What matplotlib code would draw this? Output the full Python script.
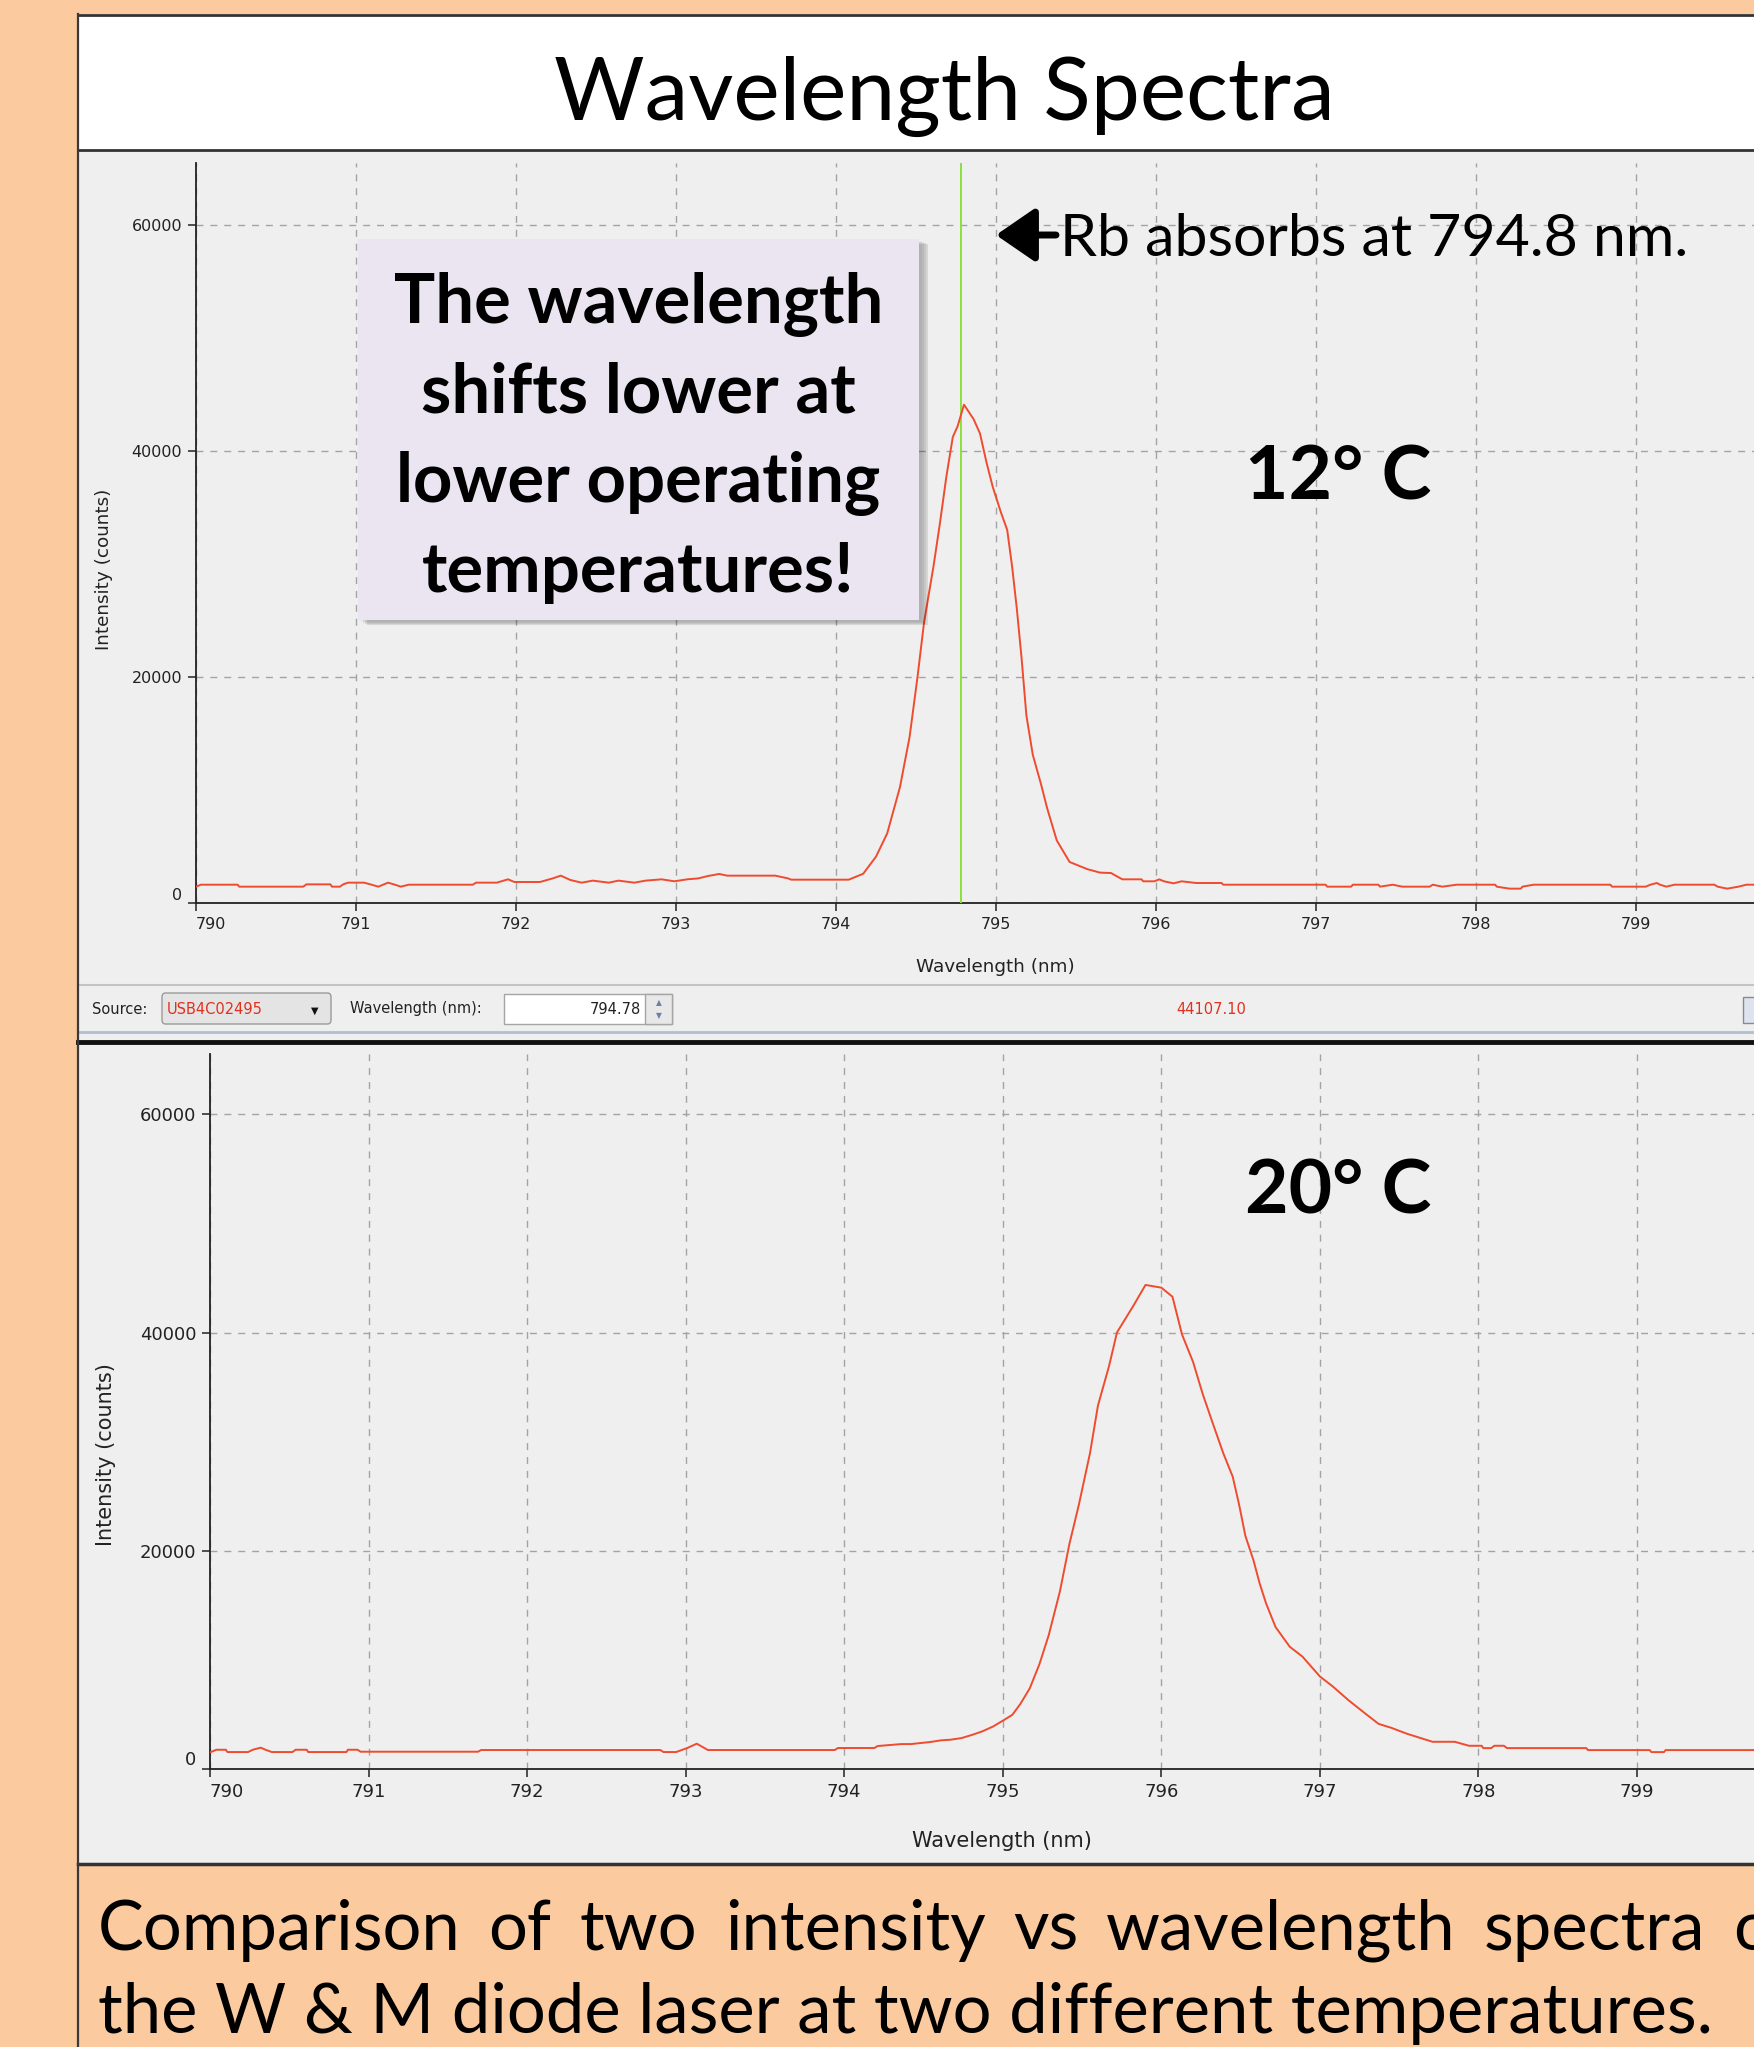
import numpy as np
import matplotlib
matplotlib.use("Agg")
import matplotlib.pyplot as plt
from matplotlib.patches import Rectangle, FancyBboxPatch

# spectrum at 12 C (nm, counts)
top_nm = [790.00, 790.03, 790.26, 790.27, 790.67, 790.69, 790.84, 790.85, 790.90, 790.92,
          790.95, 791.05, 791.09, 791.14, 791.20, 791.25, 791.28, 791.33, 791.73, 791.75,
          791.88, 791.95, 791.99, 792.15, 792.23, 792.28, 792.34, 792.41, 792.48, 792.58,
          792.64, 792.74, 792.81, 792.91, 792.99, 793.07, 793.14, 793.20, 793.27, 793.32,
          793.62, 793.70, 793.72, 794.08, 794.17, 794.25, 794.32, 794.40, 794.46, 794.51,
          794.55, 794.61, 794.65, 794.69, 794.73, 794.76, 794.80, 794.86, 794.90, 794.94,
          794.98, 795.03, 795.07, 795.10, 795.13, 795.16, 795.19, 795.23, 795.28, 795.32,
          795.38, 795.46, 795.57, 795.65, 795.72, 795.74, 795.79, 795.91, 795.92, 795.99,
          796.02, 796.05, 796.11, 796.16, 796.25, 796.41, 796.42, 797.06, 797.07, 797.22,
          797.23, 797.39, 797.40, 797.48, 797.54, 797.71, 797.73, 797.79, 797.88, 798.12,
          798.13, 798.21, 798.28, 798.29, 798.36, 798.84, 798.85, 799.06, 799.09, 799.13,
          799.15, 799.19, 799.24, 799.49, 799.51, 799.57, 799.64, 799.69, 799.74]
top_counts = [1445, 1620, 1620, 1445, 1445, 1650, 1650, 1445, 1445, 1650,
              1800, 1800, 1650, 1445, 1800, 1590, 1445, 1620, 1620, 1800,
              1800, 2095, 1860, 1860, 2180, 2420, 2035, 1800, 1980, 1800,
              1980, 1800, 1980, 2095, 1920, 2095, 2180, 2390, 2570, 2420,
              2420, 2180, 2065, 2065, 2590, 4100, 6160, 10270, 14700, 20070,
              24800, 29860, 33650, 37760, 41240, 42190, 44100, 42820, 41550, 39030,
              36810, 34600, 33020, 29860, 26070, 21650, 16590, 13110, 10590, 8370,
              5530, 3630, 3000, 2690, 2650, 2480, 2095, 2095, 1920, 1920,
              2095, 1920, 1740, 1920, 1770, 1770, 1620, 1620, 1445, 1445,
              1620, 1620, 1445, 1620, 1445, 1445, 1620, 1445, 1620, 1620,
              1445, 1270, 1270, 1445, 1620, 1620, 1445, 1445, 1620, 1770,
              1620, 1445, 1620, 1620, 1445, 1270, 1445, 1620, 1620]

# spectrum at 20 C (nm, counts)
bottom_nm = [790.00, 790.04, 790.10, 790.11, 790.24, 790.27, 790.32, 790.35, 790.39, 790.52,
             790.54, 790.61, 790.62, 790.86, 790.87, 790.93, 790.95, 791.69, 791.71, 792.84,
             792.86, 792.94, 793.01, 793.07, 793.14, 793.94, 793.96, 794.19, 794.21, 794.36,
             794.42, 794.54, 794.61, 794.67, 794.74, 794.81, 794.87, 794.94, 795.01, 795.06,
             795.11, 795.17, 795.23, 795.29, 795.36, 795.42, 795.48, 795.55, 795.60, 795.67,
             795.72, 795.82, 795.90, 796.00, 796.07, 796.13, 796.20, 796.26, 796.32, 796.39,
             796.45, 796.49, 796.53, 796.58, 796.62, 796.66, 796.72, 796.81, 796.89, 797.00,
             797.08, 797.18, 797.29, 797.37, 797.45, 797.55, 797.71, 797.85, 797.94, 798.02,
             798.03, 798.08, 798.10, 798.16, 798.18, 798.68, 798.69, 799.08, 799.09, 799.17,
             799.18, 799.74]
bottom_counts = [1560, 1800, 1800, 1590, 1590, 1800, 1990, 1800, 1590, 1590,
                 1800, 1800, 1590, 1590, 1800, 1800, 1620, 1620, 1775, 1775,
                 1590, 1590, 1960, 2355, 1775, 1775, 1960, 1960, 2140, 2320,
                 2320, 2505, 2660, 2720, 2870, 3180, 3480, 3940, 4550, 5000,
                 5980, 7430, 9600, 12320, 16300, 20650, 24270, 28980, 33330, 36950,
                 40030, 42390, 44380, 44130, 43300, 39850, 37320, 34420, 31880, 28980,
                 26810, 24270, 21380, 19200, 17030, 15220, 13040, 11230, 10330, 8510,
                 7610, 6340, 5070, 4170, 3810, 3260, 2530, 2530, 2165, 2165,
                 1950, 1950, 2165, 2165, 1950, 1950, 1770, 1770, 1585, 1585,
                 1770, 1770]

wavelength_ticks = [790, 791, 792, 793, 794, 795, 796, 797, 798, 799]
count_ticks = [0, 20000, 40000, 60000]
cursor_nm = 794.78
cursor_value = "44107.10"

W, H = 1754, 2047
fig = plt.figure(figsize=(W / 100, H / 100), dpi=100)
fig.patch.set_facecolor('#FBCA9F')


def fx(px):
    return px / W


def fy(py):
    return 1 - py / H


def box(x0, y0, x1, y1, z=-5, **kw):
    r = Rectangle((fx(x0), fy(y1)), (x1 - x0) / W, (y1 - y0) / H,
                  transform=fig.transFigure, zorder=z, **kw)
    fig.add_artist(r)
    return r


def hline(x0, x1, y, color, lw, z=-4):
    fig.add_artist(plt.Line2D([fx(x0), fx(x1)], [fy(y), fy(y)], transform=fig.transFigure,
                              color=color, lw=lw, zorder=z))


# panels
box(78, 14, 1760, 150, facecolor='white')
box(78, 150, 1760, 1864, facecolor='#EFEFEF')
hline(78, 1760, 15, '#333333', 2.0)
hline(78, 1760, 150, '#333333', 2.0)
hline(78, 1760, 985, '#C4C4C4', 1.5)
hline(78, 1760, 1032, '#AFC0D2', 2.0)
hline(78, 1760, 1042, '#111111', 3.5)
hline(78, 1760, 1864, '#333333', 2.5)
fig.add_artist(plt.Line2D([fx(78), fx(78)], [0, fy(14)], transform=fig.transFigure,
                          color='#3A3A3A', lw=1.6, zorder=-3))

fig.text(fx(944), fy(120), 'Wavelength Spectra', ha='center', va='baseline',
         fontsize=63, family='Lato')


def style_axes(ax, x0, fs, lab_fs, xlab, ylab):
    ax.set_facecolor('none')
    ax.set_xlim(790, 790 + (W - x0) / (1558 if x0 < 200 else 1544) * 9.7375)
    ax.set_ylim(0, 65535)
    ax.set_xticks(wavelength_ticks)
    ax.set_yticks(count_ticks)
    ax.grid(True, color='#A3A3A3', linestyle=(0, (5, 5)), lw=1.0)
    ax.set_axisbelow(True)
    for s in ['top', 'right']:
        ax.spines[s].set_visible(False)
    for s in ['left', 'bottom']:
        ax.spines[s].set_color('#222222')
        ax.spines[s].set_linewidth(1.3)
    ax.tick_params(direction='out', length=6, width=1.1, colors='#222222',
                   labelsize=fs, pad=4)
    ax.set_xlabel('Wavelength (nm)', fontsize=lab_fs, color='#222222')
    ax.set_ylabel('Intensity (counts)', fontsize=lab_fs, color='#222222')
    ax.xaxis.set_label_coords(*xlab)
    ax.yaxis.set_label_coords(*ylab)
    # first labels sit inside the corner, like the original software
    ax.get_yticklabels()[0].set_verticalalignment('bottom')
    ax.get_xticklabels()[0].set_horizontalalignment('left')


# top chart (12 C)
ax1 = fig.add_axes([fx(196), fy(903), (W - 196) / W, (903 - 162.5) / H])
style_axes(ax1, 196, 11.5, 13.2, (0.513, -0.074), (-0.053, 0.45))
ax1.axvline(cursor_nm, color='#8BE03C', lw=1.4, zorder=3)
ax1.plot(top_nm, top_counts, color='#EE4B2F', lw=1.4, zorder=4)

# bottom chart (20 C)
ax2 = fig.add_axes([fx(210), fy(1769.4), (W - 210) / W, (1769.4 - 1054) / H])
style_axes(ax2, 210, 13, 15, (0.513, -0.086), (-0.0606, 0.44))
ax2.plot(bottom_nm, bottom_counts, color='#EE4B2F', lw=1.4, zorder=4)

# text box with shadow
for i, a in enumerate([0.04, 0.06, 0.08, 0.10]):
    box(358 + 3 + i * 2, 239 + 2 + i, 919 + 3 + i * 2, 620 + 2 + i, z=4,
        facecolor='black', alpha=a, lw=0)
box(358, 239, 919, 620, z=5, facecolor='#EAE5F0', lw=0)
for i, line in enumerate(['The wavelength', 'shifts lower at', 'lower operating', 'temperatures!']):
    fig.text(fx(638.5), fy(323 + i * 89.5), line, ha='center', va='baseline',
             fontsize=49.5, family='Lato', weight='bold', zorder=6)

fig.text(fx(1338), fy(500), '12\u00b0 C', ha='center', va='baseline',
         fontsize=54, family='Lato', weight='bold')
fig.text(fx(1338), fy(1213), '20\u00b0 C', ha='center', va='baseline',
         fontsize=54, family='Lato', weight='bold')

# arrow + Rb note
ax1.annotate('', xy=(996, H - 235), xycoords='figure pixels',
             xytext=(1056, H - 235), textcoords='figure pixels',
             arrowprops=dict(arrowstyle='-|>,head_length=0.8,head_width=0.55', lw=5,
                             color='black', mutation_scale=30, shrinkA=0, shrinkB=0))
fig.text(fx(1060), fy(256), 'Rb absorbs at 794.8 nm.', ha='left', va='baseline',
         fontsize=42.5, family='Lato')

# status bar
ui = dict(fontsize=10.5, color='#222222', va='center')
fig.text(fx(92), fy(1009), 'Source:', **ui)
fig.add_artist(FancyBboxPatch((fx(162), fy(1024)), (331 - 162) / W, 31 / H,
                              boxstyle='round,pad=0,rounding_size=0.002',
                              transform=fig.transFigure, facecolor='#E4E4E4',
                              edgecolor='#9A9A9A', lw=1.0))
fig.text(fx(167), fy(1009), 'USB4C02495', fontsize=10.5, color='#E0301E', va='center')
fig.text(fx(315), fy(1011), '\u25bc', fontsize=7, color='#111111', va='center', ha='center')
fig.text(fx(350), fy(1009), 'Wavelength (nm):', **ui)
box(504, 994, 672, 1024, z=2, facecolor='white', edgecolor='#A5A5A5', lw=1.0)
box(645, 994, 672, 1024, z=2, facecolor='#E8E8E8', edgecolor='#A5A5A5', lw=1.0)
fig.text(fx(641), fy(1009), f'{cursor_nm:.2f}', ha='right', **ui)
fig.text(fx(658.5), fy(1003), '\u25b2', fontsize=5.5, color='#6A80A8', ha='center', va='center')
fig.text(fx(658.5), fy(1016), '\u25bc', fontsize=5.5, color='#6A80A8', ha='center', va='center')
fig.text(fx(1211), fy(1009), cursor_value, ha='center', fontsize=10.5, color='#E0301E', va='center')
box(1743, 997, 1760, 1023, z=2, facecolor='#DDE4F0', edgecolor='#8A8A8A', lw=1.0)

# caption, first line justified (runs past the right edge as in the slide)
caption_1 = 'Comparison of two intensity vs wavelength spectra of'
caption_2 = 'the W & M diode laser at two different temperatures.'
words = caption_1.split()
texts = [fig.text(0, fy(1950), w, fontsize=49.5, family='Lato', va='baseline') for w in words]
r = fig.canvas.get_renderer()
widths = [t.get_window_extent(r).width for t in texts]
gap = (1733 - 98 - sum(widths[:-1])) / (len(words) - 1)
x = 98
for t, w in zip(texts, widths):
    t.set_x(fx(x))
    x += w + gap
fig.text(fx(98), fy(2033), caption_2, fontsize=49.5, family='Lato', va='baseline')

fig.savefig('out.png', dpi=100, facecolor=fig.get_facecolor())
